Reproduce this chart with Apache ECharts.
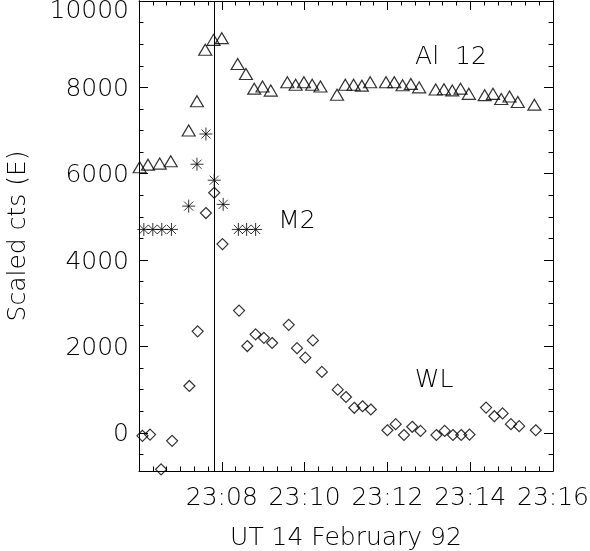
<!DOCTYPE html>
<html>
<head>
<meta charset="utf-8">
<script src="https://cdn.jsdelivr.net/npm/echarts@6/dist/echarts.min.js"></script>
<style>
  html, body { margin: 0; padding: 0; background: #fff; }
  #main { width: 590px; height: 551px; }
</style>
</head>
<body>
<div id="main"></div>
<script>
// time in seconds after 23:00 UT
var al12Time = [361, 373, 390, 406, 432, 444, 456, 468, 480, 503, 515, 527, 539, 551, 575, 587, 599, 611, 623, 647,
  659, 671, 683, 695, 718, 730, 742, 754, 766, 790, 802, 814, 826, 838, 861, 873, 885, 897, 909, 933];
var al12Cts = [6150, 6210, 6235, 6290, 7000, 7680, 8870, 9100, 9140, 8540, 8310, 7970, 8020, 7925, 8120, 8060, 8120, 8060, 8020, 7830,
  8060, 8060, 8040, 8120, 8120, 8120, 8050, 8080, 8000, 7950, 7955, 7930, 7970, 7850, 7820, 7850, 7730, 7790, 7660, 7600];

var m2Time = [367, 380, 393, 407, 432, 444, 457, 469, 482, 504, 516, 529];
var m2Cts = [4710, 4710, 4710, 4710, 5250, 6220, 6920, 5850, 5290, 4710, 4710, 4710];

var wlTime = [365, 376, 392, 408, 433, 445, 457, 469, 481, 505, 517, 529, 541, 553, 577, 589, 601, 612, 625, 648,
  660, 672, 684, 696, 720, 732, 744, 756, 768, 791, 803, 815, 827, 839, 863, 875, 887, 899, 911, 935];
var wlCts = [-70, -40, -845, -185, 1085, 2350, 5090, 5560, 4370, 2830, 2010, 2280, 2200, 2080, 2500, 1960, 1740, 2140, 1410, 1000,
  830, 580, 615, 540, 60, 200, -50, 140, 45, -50, 45, -50, -50, -40, 585, 385, 450, 200, 155, 60];

var flashTime = 469;
var yMajor = [0, 2000, 4000, 6000, 8000, 10000];
var yMinor = [-500, 500, 1000, 1500, 2500, 3000, 3500, 4500, 5000, 5500, 6500, 7000, 7500, 8500, 9000, 9500];
var yMin = -884, yMax = 10000;

function pairs(t, v) {
  return t.map(function (x, i) { return [x, v[i]]; });
}
function clock(s) {
  var m = Math.round(s / 60);
  return '23:' + (m < 10 ? '0' + m : m);
}
function counts(v) {
  // top label sits inside the frame, like the original
  return v === yMax ? '{top|' + v + '}' : '{n|' + v + '}';
}

var font = { fontFamily: 'DejaVu Sans', fontSize: 25, fontWeight: 200, color: '#000' };
var hollow = { color: 'transparent', borderColor: '#000', borderWidth: 1.2 };
var asterisk = 'path://M6,0L6,12M0,6L12,6M1.8,1.8L10.2,10.2M1.8,10.2L10.2,1.8';

function xAx(pos, labels) {
  return {
    type: 'value', position: pos, min: 360, max: 960, interval: 120,
    axisLine: { show: true, onZero: false, lineStyle: { color: '#000', width: 1 } },
    axisTick: { show: true, inside: true, length: 9, lineStyle: { color: '#000' } },
    minorTick: { show: true, splitNumber: 6, length: 4.5, lineStyle: { color: '#000' } },
    splitLine: { show: false },
    axisLabel: labels ? Object.assign({ show: true, margin: 15, showMinLabel: false, formatter: clock }, font) : { show: false },
    name: labels ? 'UT 14 February 92' : '',
    nameLocation: 'middle', nameGap: 55,
    nameTextStyle: font
  };
}
function yAx(pos, vals, len, labels) {
  return {
    type: 'value', position: pos, min: yMin, max: yMax,
    axisLine: { show: true, onZero: false, lineStyle: { color: '#000', width: 1 } },
    axisTick: { show: true, inside: true, length: len, customValues: vals, lineStyle: { color: '#000' } },
    splitLine: { show: false },
    axisLabel: labels ? Object.assign({
      show: true, margin: 10, customValues: vals, formatter: counts,
      rich: {
        n: Object.assign({ padding: [4, 0, 0, 0] }, font),
        top: Object.assign({ padding: [21, 0, 0, 0] }, font)
      }
    }, font) : { show: false },
    name: labels ? 'Scaled cts (E)' : '',
    nameLocation: 'middle', nameGap: 108, nameRotate: 90,
    nameTextStyle: font
  };
}

var chart = echarts.init(document.getElementById('main'));
chart.setOption({
  animation: false,
  grid: { left: 139, right: 37, top: 1, bottom: 80, containLabel: false, outerBoundsMode: 'none' },
  xAxis: [xAx('bottom', true), xAx('top', false)],
  yAxis: [
    yAx('left', yMajor, 9, true),
    yAx('left', yMinor, 4.5, false),
    yAx('right', yMajor, 9, false),
    yAx('right', yMinor, 4.5, false)
  ],
  graphic: [
    { type: 'text', x: 451, y: 57, style: { text: 'Al  12', align: 'center', verticalAlign: 'middle', font: '200 25px "DejaVu Sans"', fill: '#000' } },
    { type: 'text', x: 297, y: 221, style: { text: 'M2', align: 'center', verticalAlign: 'middle', font: '200 25px "DejaVu Sans"', fill: '#000' } },
    { type: 'text', x: 434, y: 380, style: { text: 'WL', align: 'center', verticalAlign: 'middle', font: '200 25px "DejaVu Sans"', fill: '#000' } }
  ],
  series: [
    {
      name: 'Al 12', type: 'scatter', data: pairs(al12Time, al12Cts),
      symbol: 'triangle', symbolSize: [13, 11], itemStyle: hollow,
      markLine: {
        silent: true, symbol: 'none', label: { show: false },
        lineStyle: { color: '#000', width: 1, type: 'solid' },
        data: [{ xAxis: flashTime }]
      }
    },
    {
      name: 'M2', type: 'scatter', data: pairs(m2Time, m2Cts),
      symbol: asterisk, symbolSize: 13, itemStyle: { color: 'transparent', borderColor: '#000', borderWidth: 1 }
    },
    {
      name: 'WL', type: 'scatter', data: pairs(wlTime, wlCts),
      symbol: 'diamond', symbolSize: 11, itemStyle: hollow
    }
  ]
});
</script>
</body>
</html>
